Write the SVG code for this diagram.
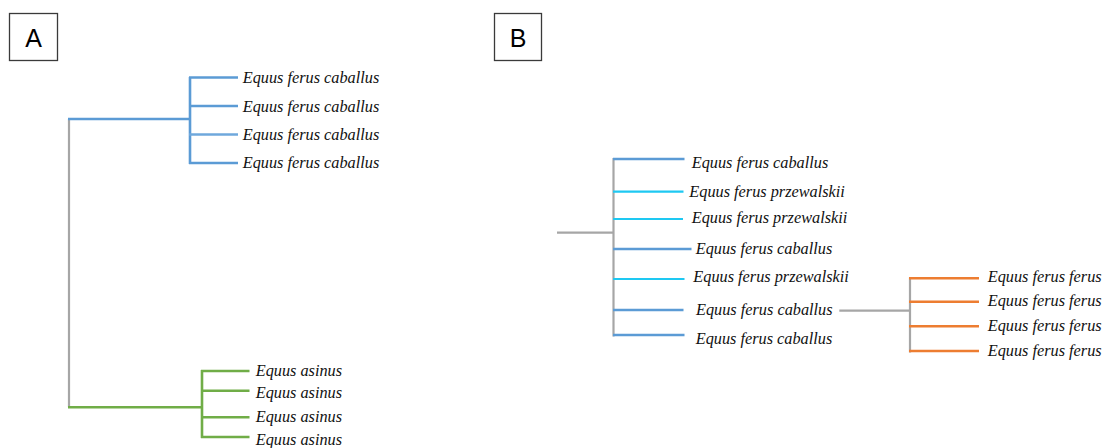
<svg xmlns="http://www.w3.org/2000/svg" width="1107" height="448" viewBox="0 0 1107 448">
  <style>
    .panel { fill: #ffffff; stroke: #3a3a3a; stroke-width: 1.3; }
    .panel-label { font-family: "Liberation Sans", Arial, sans-serif; font-size: 25px; fill: #000000; text-anchor: middle; }
    .taxon { font-family: "Liberation Serif", "Times New Roman", serif; font-style: italic; font-size: 16.3px; fill: #111111; }
    .br { fill: none; stroke-linecap: butt; }
    .gray { stroke: #a6a6a6; stroke-width: 2.2; }
    .blue { stroke: #5b9bd5; stroke-width: 2.6; }
    .cyan { stroke: #1ec8f2; stroke-width: 2.2; }
    .green { stroke: #70ad47; stroke-width: 2.6; }
    .orange { stroke: #ed7d31; stroke-width: 2.6; }
  </style>
  <rect width="1107" height="448" fill="#ffffff"/>

  <!-- Panel labels -->
  <g id="label-A">
    <rect class="panel" x="9.5" y="13.5" width="48" height="47"/>
    <text class="panel-label" x="33.5" y="47">A</text>
  </g>
  <g id="label-B">
    <rect class="panel" x="494.5" y="13.5" width="47" height="47"/>
    <text class="panel-label" x="518" y="47">B</text>
  </g>

  <!-- Branches -->
  <g id="connectors">
    <!-- Tree A -->
    <line class="br gray" x1="69" y1="119" x2="69" y2="407"/>
    <line class="br blue" x1="68" y1="119" x2="190" y2="119"/>
    <line class="br blue" x1="190" y1="77" x2="190" y2="164"/>
    <line class="br blue" x1="189" y1="77.5" x2="238" y2="77.5"/>
    <line class="br blue" x1="189" y1="106" x2="238" y2="106"/>
    <line class="br blue" x1="189" y1="134.5" x2="238" y2="134.5" style="stroke:#6fa8dc"/>
    <line class="br blue" x1="189" y1="163" x2="238" y2="163"/>
    <line class="br green" x1="68" y1="407.3" x2="202" y2="407.3"/>
    <line class="br green" x1="202" y1="370" x2="202" y2="438"/>
    <line class="br green" x1="201" y1="371" x2="249.5" y2="371"/>
    <line class="br green" x1="201" y1="390.7" x2="249.5" y2="390.7"/>
    <line class="br green" x1="201" y1="417.3" x2="249.5" y2="417.3"/>
    <line class="br green" x1="201" y1="437" x2="249.5" y2="437"/>

    <!-- Tree B -->
    <line class="br gray" x1="557" y1="232.7" x2="614" y2="232.7"/>
    <line class="br gray" x1="613.5" y1="158" x2="613.5" y2="336.5"/>
    <line class="br blue" x1="613" y1="159" x2="684.5" y2="159"/>
    <line class="br cyan" x1="613" y1="191.7" x2="683.5" y2="191.7"/>
    <line class="br cyan" x1="613" y1="219" x2="683" y2="219"/>
    <line class="br blue" x1="613" y1="249" x2="691.5" y2="249"/>
    <line class="br cyan" x1="613" y1="279" x2="684.5" y2="279"/>
    <line class="br blue" x1="613" y1="310" x2="683.5" y2="310"/>
    <line class="br blue" x1="613" y1="335" x2="684.5" y2="335"/>
    <line class="br gray" x1="839.3" y1="310.7" x2="911" y2="310.7"/>
    <line class="br gray" x1="910" y1="277.5" x2="910" y2="352.5"/>
    <line class="br orange" x1="909" y1="278.3" x2="979" y2="278.3"/>
    <line class="br orange" x1="909" y1="301.7" x2="979" y2="301.7"/>
    <line class="br orange" x1="909" y1="326.3" x2="979" y2="326.3"/>
    <line class="br orange" x1="909" y1="351" x2="979" y2="351"/>
  </g>

  <!-- Tree A taxa -->
  <g id="tree-A-taxa">
    <text class="taxon" x="242.7" y="82.7">Equus ferus caballus</text>
    <text class="taxon" x="242.7" y="111.5">Equus ferus caballus</text>
    <text class="taxon" x="242.7" y="140">Equus ferus caballus</text>
    <text class="taxon" x="242.7" y="168.3">Equus ferus caballus</text>
    <text class="taxon" x="255.7" y="375.5">Equus asinus</text>
    <text class="taxon" x="255.7" y="397.7">Equus asinus</text>
    <text class="taxon" x="255.7" y="421.7">Equus asinus</text>
    <text class="taxon" x="255.7" y="445.3">Equus asinus</text>
  </g>

  <!-- Tree B taxa -->
  <g id="tree-B-taxa">
    <text class="taxon" x="691.7" y="168.3">Equus ferus caballus</text>
    <text class="taxon" x="689.3" y="196.5">Equus ferus przewalskii</text>
    <text class="taxon" x="691.7" y="223">Equus ferus przewalskii</text>
    <text class="taxon" x="695.7" y="253.5">Equus ferus caballus</text>
    <text class="taxon" x="693.3" y="282">Equus ferus przewalskii</text>
    <text class="taxon" x="696" y="315.3">Equus ferus caballus</text>
    <text class="taxon" x="695.7" y="343.5">Equus ferus caballus</text>
    <text class="taxon" x="987.7" y="282">Equus ferus ferus</text>
    <text class="taxon" x="987.7" y="306.3">Equus ferus ferus</text>
    <text class="taxon" x="987.7" y="331">Equus ferus ferus</text>
    <text class="taxon" x="987.7" y="356">Equus ferus ferus</text>
  </g>
</svg>
